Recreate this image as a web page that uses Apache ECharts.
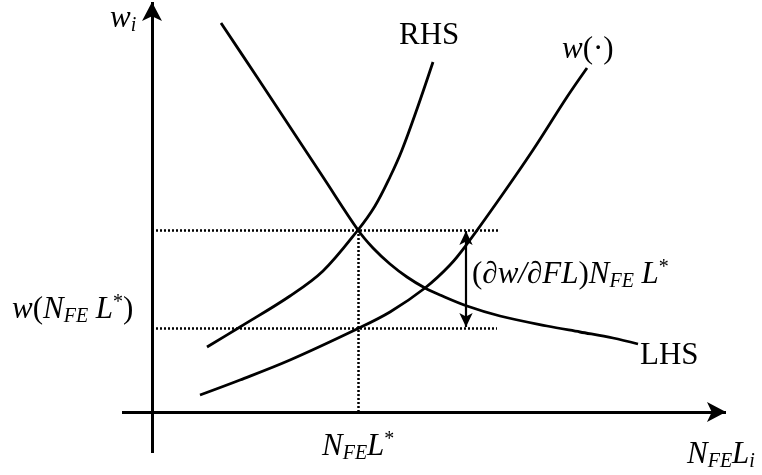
<!DOCTYPE html>
<html>
<head>
<meta charset="utf-8">
<script src="https://cdn.jsdelivr.net/npm/echarts@6/dist/echarts.min.js"></script>
<style>
  html, body { margin: 0; padding: 0; background: #fff; }
  #main { width: 762px; height: 475px; }
</style>
</head>
<body>
<div id="main"></div>
<script>
// curves (x = N_FE L_i, y = w_i, origin at the axes' crossing)
var lhsPoints = [[69,389],[105,335],[138,285],[171,235],[206,182],[221,164],[238,148],[255,135],[273,124],[288,117],[315,106],[348,96],[395,86],[428,80],[461,74],[486,68]];
var rhsPoints = [[55,65],[88,85],[138,116],[171,141],[206,182],[223,206],[238,235],[250,262],[265,303],[281,350]];
var wPoints = [[48,17],[88,32],[138,52],[205,83],[238,100],[273,124],[298,147],[315,168],[348,214],[381,262],[415,315],[435,344]];

// equilibrium and reference levels
var eqX = 206;      // N_FE L*
var eqW = 182;      // crossing of LHS and RHS
var wStar = 84;     // w(N_FE L*)
var gapX = 314;     // where the double arrow sits
var upperEnd = 348;
var lowerEnd = 345;

// axes extents
var xAxisFrom = -30, xAxisTo = 574;
var yAxisFrom = -41, yAxisTo = 410;

var serif = '"Liberation Serif", "DejaVu Serif", serif';

var chart = echarts.init(document.getElementById('main'));

// one smooth path through all the points of a curve
function curve(points) {
    return {
        type: 'custom',
        data: points,
        silent: true,
        renderItem: function (params, api) {
            if (params.dataIndex !== 0) return;
            var pts = points.map(function (p) { return api.coord(p); });
            return {
                type: 'polyline',
                shape: { points: pts, smooth: 0.35, smoothConstraint: false },
                style: { stroke: '#000', lineWidth: 2.8, fill: null }
            };
        }
    };
}

function seg(x1, y1, x2, y2) {
    return [{ coord: [x1, y1] }, { coord: [x2, y2] }];
}

var rich = {
    n: { fontFamily: serif, fontSize: 31, lineHeight: 34, color: '#000' },
    it: { fontFamily: serif, fontSize: 31, lineHeight: 34, fontStyle: 'italic', color: '#000' },
    sub: { fontFamily: serif, fontSize: 20, lineHeight: 10, fontStyle: 'italic', verticalAlign: 'bottom', color: '#000' },
    sup: { fontFamily: serif, fontSize: 20, lineHeight: 10, verticalAlign: 'top', color: '#000' }
};

function label(left, top, text) {
    return { type: 'text', left: left, top: top, silent: true, style: { text: text, rich: rich } };
}

var option = {
    animation: false,
    backgroundColor: '#fff',
    grid: { left: 0, right: 0, top: 0, bottom: 0 },
    xAxis: { type: 'value', min: -152, max: 610, show: false },
    yAxis: { type: 'value', min: -63, max: 412, show: false },
    series: [
        curve(lhsPoints),
        curve(rhsPoints),
        curve(wPoints),
        {
            type: 'line',
            data: [],
            silent: true,
            markLine: {
                silent: true,
                symbol: ['none', 'arrow'],
                symbolSize: [15, 19],
                label: { show: false },
                lineStyle: { color: '#000', width: 3, type: 'solid' },
                data: [
                    seg(xAxisFrom, 0, xAxisTo, 0),
                    seg(0, yAxisFrom, 0, yAxisTo)
                ]
            }
        },
        {
            type: 'line',
            data: [],
            silent: true,
            markLine: {
                silent: true,
                symbol: ['none', 'none'],
                label: { show: false },
                lineStyle: { color: '#000', width: 2.5, type: [2, 2] },
                data: [
                    seg(0, eqW, upperEnd, eqW),
                    seg(0, wStar, lowerEnd, wStar),
                    seg(eqX, 0, eqX, eqW)
                ]
            }
        },
        {
            type: 'line',
            data: [],
            silent: true,
            markLine: {
                silent: true,
                symbol: ['arrow', 'arrow'],
                symbolSize: [10, 14],
                label: { show: false },
                lineStyle: { color: '#000', width: 2.2, type: 'solid' },
                data: [seg(gapX, wStar + 1, gapX, eqW - 1)]
            }
        }
    ],
    graphic: [
        label(110, 3, '{it|w}{sub|i}'),
        label(399, 20, '{n|RHS}'),
        label(562, 34, '{it|w}{n|(·)}'),
        label(472, 258, '{n|(}{it|∂w/∂FL}{n|)}{it|N}{sub|FE}{it| L}{sup|*}'),
        label(640, 340, '{n|LHS}'),
        label(12, 293, '{it|w}{n|(}{it|N}{sub|FE}{it| L}{sup|*}{n|)}'),
        label(322, 430, '{it|N}{sub|FE}{it|L}{sup|*}'),
        label(687, 439, '{it|N}{sub|FE}{it|L}{sub|i}')
    ]
};

chart.setOption(option);
</script>
</body>
</html>
